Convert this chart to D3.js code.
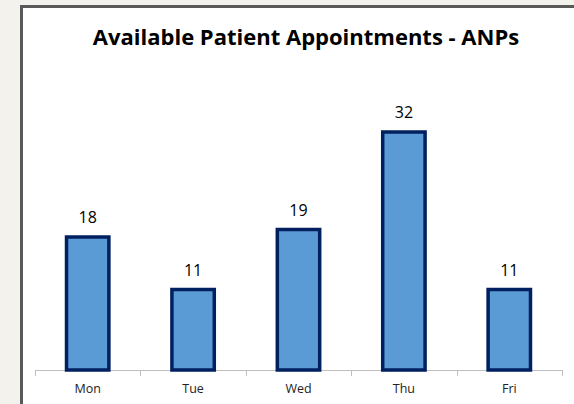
<!DOCTYPE html>
<style>
body { margin: 0; background: #f4f2ec; }
svg { display: block; }
</style>
<svg width="574" height="404"></svg>
<script src="https://d3js.org/d3.v7.min.js"></script>
<script>
var days = ["Mon", "Tue", "Wed", "Thu", "Fri"];
var appointments = [18, 11, 19, 32, 11];
var title = "Available Patient Appointments - ANPs";

var svg = d3.select("svg");

// chart frame
svg.append("rect")
    .attr("x", 21.5).attr("y", 6.5)
    .attr("width", 600).attr("height", 450)
    .attr("fill", "#fff")
    .attr("stroke", "#595959")
    .attr("stroke-width", 3);

svg.append("text")
    .attr("x", 306).attr("y", 45)
    .attr("text-anchor", "middle")
    .attr("font-family", "Open Sans, sans-serif")
    .attr("font-weight", "bold")
    .attr("font-size", 22)
    .attr("fill", "#000")
    .text(title);

var x = d3.scaleBand()
    .domain(days)
    .range([35, 562])
    .paddingInner(0.56)
    .paddingOuter(0.28);

var y = d3.scaleLinear()
    .domain([0, 32])
    .range([370, 130]);

// axis with ticks between categories
var axis = svg.append("g");
axis.append("line")
    .attr("x1", 35).attr("x2", 562)
    .attr("y1", 370.5).attr("y2", 370.5)
    .attr("stroke", "#bfbfbf");
var step = (562 - 35) / days.length;
axis.selectAll(".tk")
    .data(d3.range(days.length + 1))
    .enter().append("line")
      .attr("x1", function(i) { return Math.round(35 + i * step) + 0.5; })
      .attr("x2", function(i) { return Math.round(35 + i * step) + 0.5; })
      .attr("y1", 370).attr("y2", 376)
      .attr("stroke", "#bfbfbf");

axis.selectAll(".lbl")
    .data(days)
    .enter().append("text")
      .attr("x", function(d) { return x(d) + x.bandwidth() / 2; })
      .attr("y", 393)
      .attr("text-anchor", "middle")
      .attr("font-family", "Open Sans, sans-serif")
      .attr("font-size", 12.5)
      .attr("fill", "#222")
      .text(function(d) { return d; });

svg.selectAll(".bar")
    .data(appointments)
    .enter().append("rect")
      .attr("x", function(d, i) { return x(days[i]) + 2; })
      .attr("y", function(d) { return y(d) + 2; })
      .attr("width", x.bandwidth() - 4)
      .attr("height", function(d) { return y(0) - y(d) - 2; })
      .attr("fill", "#5b9bd5")
      .attr("stroke", "#002060")
      .attr("stroke-width", 3.5);

svg.selectAll(".val")
    .data(appointments)
    .enter().append("text")
      .attr("x", function(d, i) { return x(days[i]) + x.bandwidth() / 2; })
      .attr("y", function(d) { return y(d) - 12; })
      .attr("text-anchor", "middle")
      .attr("font-family", "Open Sans, sans-serif")
      .attr("font-size", 16)
      .attr("fill", "#000")
      .text(function(d) { return d; });
</script>
